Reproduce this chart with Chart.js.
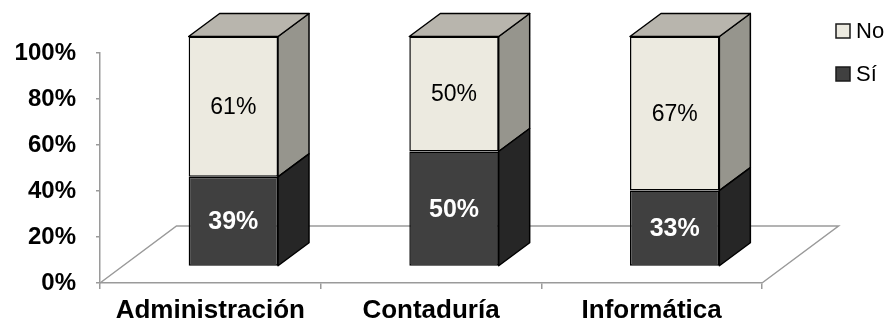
<!DOCTYPE html>
<html>
<head>
<meta charset="utf-8">
<script src="https://cdn.jsdelivr.net/npm/chart.js@4/dist/chart.umd.min.js"></script>
<style>
  html, body { margin: 0; padding: 0; background: #ffffff; }
  #wrap { width: 894px; height: 326px; position: relative; }
</style>
</head>
<body>
<div id="wrap"><canvas id="c" width="894" height="326"></canvas></div>
<script>
const categories = ['Administración', 'Contaduría', 'Informática'];
const siValues = [39, 50, 33];
const noValues = [61, 50, 67];
const seriesNames = ['Sí', 'No'];
const yTickValues = [0, 20, 40, 60, 80, 100];

const FONT = '"Liberation Sans", Arial, sans-serif';
// 3D projection styling
const FRONT_DX = 23, FRONT_DY = -16.5;   // bar plane offset from floor front edge
const DEPTH_DX = 31, DEPTH_DY = -23;     // bar depth
const FLOOR_DX = 76.5, FLOOR_DY = -57;   // floor depth

const faceColors = {
  'Sí': { front: '#404040', side: '#262626', top: '#3a3a3a', label: '#ffffff', weight: 'bold', size: 25 },
  'No': { front: '#ECEAE0', side: '#96958D', top: '#B8B5AD', label: '#000000', weight: 'normal', size: 23 }
};

function barRects(meta) {
  return meta.data.map(el => {
    const p = el.getProps(['x', 'y', 'base', 'width'], true);
    return { left: p.x - p.width / 2, right: p.x + p.width / 2,
             top: Math.min(p.y, p.base), bottom: Math.max(p.y, p.base), cx: p.x };
  });
}

function isTopOfStack(chart, dsIndex, j) {
  const dss = chart.data.datasets;
  for (let k = dsIndex + 1; k < dss.length; k++) {
    if (dss[k].data[j]) return false;
  }
  return true;
}

const bar3d = {
  id: 'bar3d',
  beforeDatasetsDraw(chart) {
    const { ctx, chartArea: a } = chart;
    ctx.save();
    ctx.strokeStyle = '#9a9a9a';
    ctx.lineWidth = 1.5;
    ctx.beginPath();
    ctx.moveTo(a.left, a.bottom);
    ctx.lineTo(a.left + FLOOR_DX, a.bottom + FLOOR_DY);
    ctx.lineTo(a.right + FLOOR_DX, a.bottom + FLOOR_DY);
    ctx.lineTo(a.right, a.bottom);
    ctx.stroke();
    ctx.restore();
  },
  beforeDatasetDraw(chart, args) {
    chart.ctx.save();
    chart.ctx.translate(FRONT_DX, FRONT_DY);
  },
  afterDatasetDraw(chart, args) {
    const ctx = chart.ctx;
    const ds = chart.data.datasets[args.index];
    const col = faceColors[ds.label];
    ctx.lineWidth = 1.5;
    ctx.lineJoin = 'round';
    ctx.strokeStyle = '#000000';
    barRects(args.meta).forEach((r, j) => {
      // right face
      ctx.beginPath();
      ctx.moveTo(r.right, r.bottom);
      ctx.lineTo(r.right + DEPTH_DX, r.bottom + DEPTH_DY);
      ctx.lineTo(r.right + DEPTH_DX, r.top + DEPTH_DY);
      ctx.lineTo(r.right, r.top);
      ctx.closePath();
      ctx.fillStyle = col.side;
      ctx.fill();
      ctx.stroke();
      // top face (only on the top segment of the stack)
      if (isTopOfStack(chart, args.index, j)) {
        ctx.beginPath();
        ctx.moveTo(r.left, r.top);
        ctx.lineTo(r.left + DEPTH_DX, r.top + DEPTH_DY);
        ctx.lineTo(r.right + DEPTH_DX, r.top + DEPTH_DY);
        ctx.lineTo(r.right, r.top);
        ctx.closePath();
        ctx.fillStyle = col.top;
        ctx.fill();
        ctx.stroke();
      }
    });
    ctx.restore();
  },
  afterDatasetsDraw(chart) {
    const ctx = chart.ctx;
    ctx.save();
    ctx.translate(FRONT_DX, FRONT_DY);
    ctx.textAlign = 'center';
    ctx.textBaseline = 'middle';
    chart.data.datasets.forEach((ds, i) => {
      const col = faceColors[ds.label];
      const meta = chart.getDatasetMeta(i);
      ctx.font = col.weight + ' ' + col.size + 'px ' + FONT;
      ctx.fillStyle = col.label;
      barRects(meta).forEach((r, j) => {
        ctx.fillText(ds.data[j] + '%', r.cx, (r.top + r.bottom) / 2 + 1);
      });
    });
    ctx.restore();
    // legend (reverse order, drawn over plot like the original)
    ctx.save();
    ctx.font = '22px ' + FONT;
    ctx.textAlign = 'left';
    ctx.textBaseline = 'middle';
    const items = chart.data.datasets.slice().reverse();
    items.forEach((ds, k) => {
      const y = 24 + k * 43;
      ctx.fillStyle = faceColors[ds.label].front;
      ctx.fillRect(836, y, 14, 14);
      ctx.strokeStyle = '#1a1a1a';
      ctx.lineWidth = 1.5;
      ctx.strokeRect(836, y, 14, 14);
      ctx.fillStyle = '#000000';
      ctx.fillText(ds.label, 856, y + 8);
    });
    ctx.restore();
  }
};

new Chart(document.getElementById('c'), {
  type: 'bar',
  data: {
    labels: categories,
    datasets: [
      { label: seriesNames[0], data: siValues, backgroundColor: faceColors['Sí'].front,
        borderColor: '#000000', borderWidth: 1.5, borderSkipped: false, clip: false },
      { label: seriesNames[1], data: noValues, backgroundColor: faceColors['No'].front,
        borderColor: '#000000', borderWidth: 1.5, borderSkipped: false, clip: false }
    ]
  },
  options: {
    responsive: false,
    animation: false,
    events: [],
    layout: { padding: { top: 53, right: 132, left: 0, bottom: 0 } },
    datasets: { bar: { categoryPercentage: 1, barPercentage: 0.405 } },
    plugins: { legend: { display: false }, tooltip: { enabled: false } },
    scales: {
      x: {
        stacked: true,
        grid: { display: true, drawOnChartArea: false, drawTicks: true, tickLength: 6, color: '#9a9a9a', lineWidth: 1.5 },
        border: { display: true, color: '#9a9a9a', width: 1.5 },
        ticks: { color: '#000000', font: { family: FONT, size: 26, weight: 'bold' }, padding: 6, maxRotation: 0 },
        afterFit(s) { s.height = 43; }
      },
      y: {
        stacked: true,
        min: 0, max: 100,
        afterBuildTicks(s) { s.ticks = yTickValues.map(v => ({ value: v })); },
        grid: { display: true, drawOnChartArea: false, drawTicks: true, tickLength: 4, color: '#9a9a9a', lineWidth: 1.5 },
        border: { display: true, color: '#9a9a9a', width: 1.5 },
        ticks: { color: '#000000', font: { family: FONT, size: 24, weight: 'bold' }, padding: 20,
                 callback: v => v + '%' },
        afterFit(s) { s.width = 100; }
      }
    }
  },
  plugins: [bar3d]
});
</script>
</body>
</html>
